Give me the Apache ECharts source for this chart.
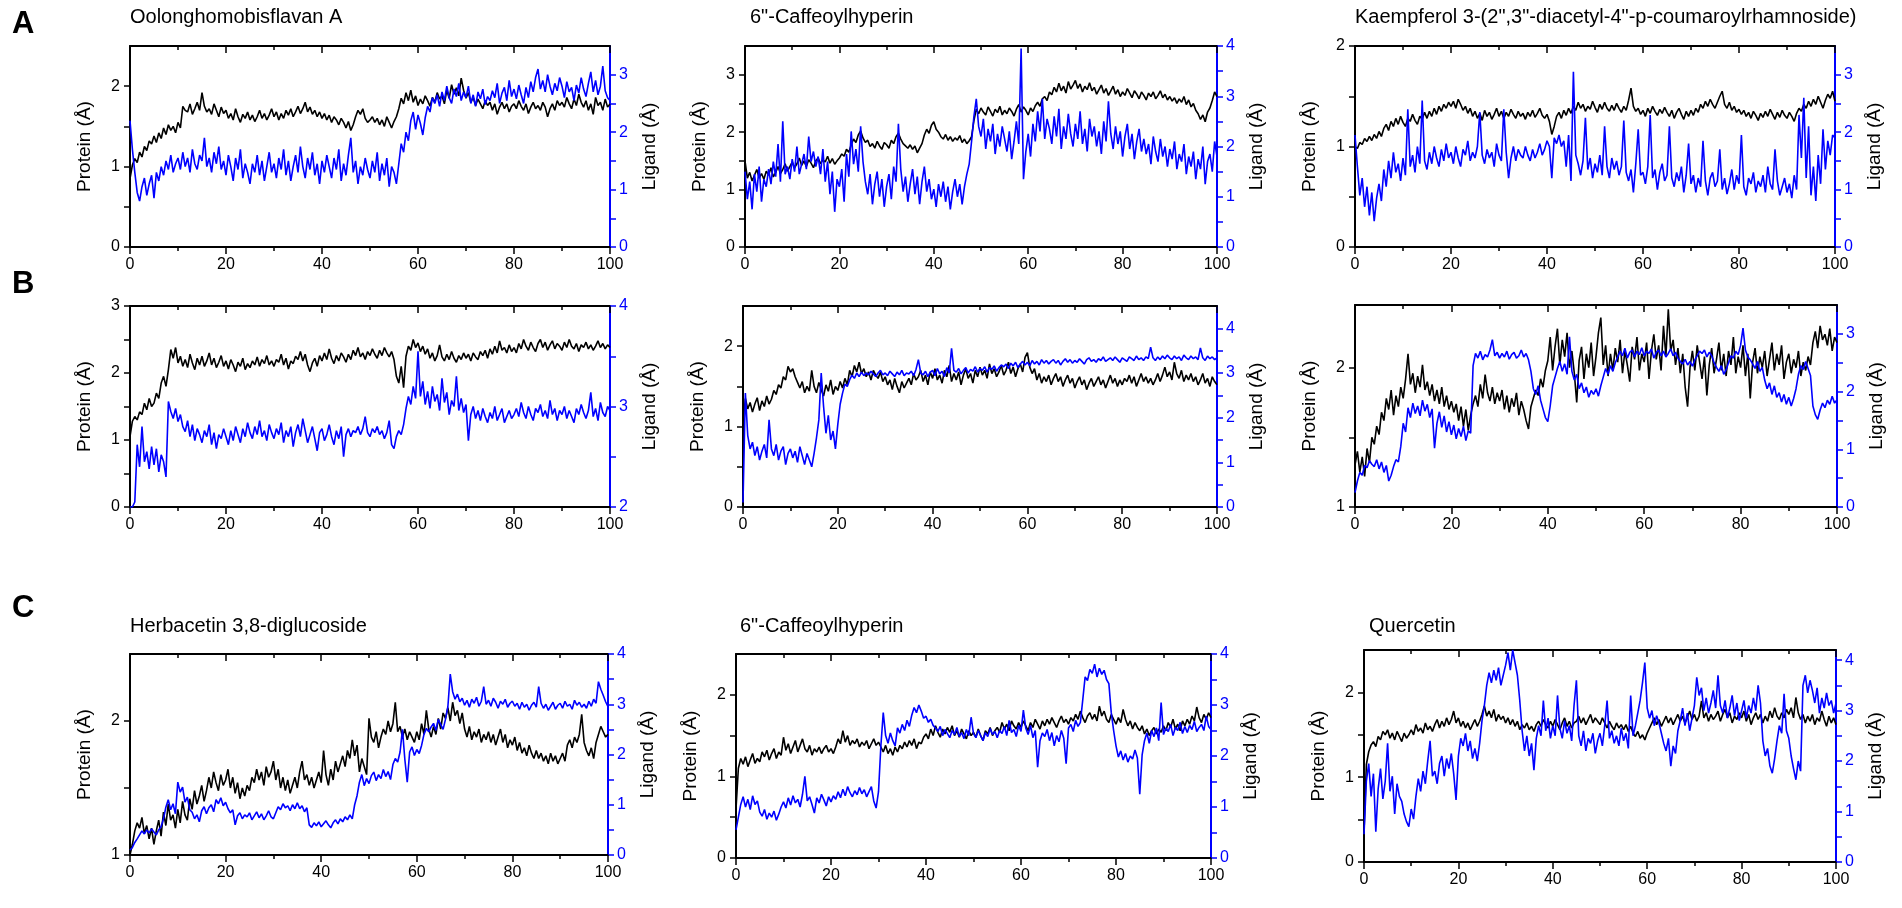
<!DOCTYPE html>
<html><head><meta charset="utf-8">
<script src="https://cdn.jsdelivr.net/npm/echarts@6/dist/echarts.min.js"></script>
<style>html,body{margin:0;padding:0;background:#fff}#c{width:1902px;height:908px}</style>
</head><body><div id="c"></div>
<script>
// ---------------- DATA ----------------
const TIME_STEP_NS = 0.5; // samples every 0.5 ns from 0 to 100 ns
const xTickLabels = [0, 20, 40, 60, 80, 100];
const panelLetters = ['A', 'B', 'C'];
const panelTitles = ['Oolonghomobisflavan A', '6"-Caffeoylhyperin', 'Kaempferol 3-(2",3"-diacetyl-4"-p-coumaroylrhamnoside)', '', '', '', 'Herbacetin 3,8-diglucoside', '6"-Caffeoylhyperin', 'Quercetin'];
const proteinRanges = [[0,2.5],[0,3.5],[0,2],[0,3],[0,2.5],[1,2.45],[1,2.5],[0,2.5],[0,2.5]];
const ligandRanges  = [[0,3.5],[0,4],[0,3.5],[2,4],[0,4.5],[0,3.5],[0,4],[0,4],[0,4.2]];
const proteinTickLabels = [[0,1,2],[0,1,2,3],[0,1,2],[0,1,2,3],[0,1,2],[1,2],[1,2],[0,1,2],[0,1,2]];
const ligandTickLabels  = [[0,1,2,3],[0,1,2,3,4],[0,1,2,3],[2,3,4],[0,1,2,3,4],[0,1,2,3],[0,1,2,3,4],[0,1,2,3,4],[0,1,2,3,4]];

const proteinA1 = [
0.85,1.02,1.10,1.05,1.18,1.12,1.25,1.20,1.32,1.28,
1.38,1.30,1.42,1.35,1.48,1.40,1.52,1.45,1.50,1.42,
1.55,1.48,1.75,1.70,1.68,1.78,1.65,1.72,1.80,1.70,
1.92,1.75,1.68,1.72,1.65,1.78,1.70,1.62,1.74,1.66,
1.70,1.60,1.66,1.58,1.72,1.62,1.55,1.65,1.60,1.68,
1.58,1.64,1.56,1.62,1.70,1.60,1.66,1.58,1.64,1.72,
1.62,1.68,1.58,1.66,1.60,1.70,1.64,1.72,1.62,1.68,
1.75,1.66,1.72,1.80,1.68,1.74,1.65,1.70,1.62,1.68,
1.60,1.66,1.58,1.64,1.55,1.62,1.58,1.52,1.60,1.55,
1.48,1.56,1.45,1.52,1.62,1.70,1.65,1.72,1.60,1.55,
1.58,1.62,1.55,1.60,1.52,1.58,1.50,1.62,1.55,1.48,
1.56,1.62,1.72,1.85,1.78,1.92,1.82,1.95,1.80,1.88,
1.76,1.84,1.78,1.88,1.82,1.75,1.86,1.80,1.92,1.84,
1.88,1.78,1.95,1.85,2.02,1.90,1.98,1.88,2.10,1.95,
1.85,1.92,1.80,1.86,1.76,1.84,1.78,1.72,1.82,1.76,
1.80,1.70,1.78,1.65,1.74,1.80,1.72,1.78,1.68,1.75,
1.78,1.72,1.82,1.75,1.70,1.78,1.66,1.74,1.80,1.72,
1.76,1.70,1.80,1.74,1.62,1.72,1.78,1.70,1.82,1.76,
1.80,1.74,1.86,1.78,1.72,1.84,1.76,1.90,1.80,1.74,
1.82,1.70,1.78,1.65,1.86,1.76,1.80,1.70,1.84,1.74,
1.78];
const ligandA1 = [
2.20,1.70,1.30,0.95,0.80,1.05,1.20,0.90,1.10,1.25,
0.85,1.30,1.15,1.40,1.25,1.50,1.35,1.60,1.30,1.45,
1.55,1.35,1.65,1.40,1.55,1.30,1.70,1.45,1.35,1.60,
1.50,1.90,1.40,1.55,1.30,1.65,1.45,1.75,1.35,1.50,
1.25,1.60,1.40,1.15,1.55,1.35,1.70,1.20,1.45,1.30,
1.10,1.45,1.30,1.60,1.25,1.50,1.15,1.40,1.65,1.30,
1.45,1.20,1.55,1.35,1.70,1.25,1.50,1.15,1.40,1.60,
1.30,1.75,1.40,1.20,1.55,1.35,1.65,1.25,1.45,1.10,
1.50,1.30,1.60,1.40,1.20,1.55,1.35,1.70,1.15,1.45,
1.25,1.60,1.90,1.30,1.50,1.10,1.40,1.25,1.55,1.35,
1.20,1.50,1.30,1.65,1.15,1.45,1.25,1.55,1.05,1.40,
1.30,1.10,1.45,1.80,1.65,2.00,1.85,2.20,2.35,2.05,
2.30,2.15,1.95,2.25,2.45,2.35,2.60,2.50,2.65,2.45,
2.70,2.55,2.80,2.60,2.50,2.75,2.62,2.85,2.55,2.70,
2.60,2.80,2.50,2.65,2.45,2.70,2.58,2.75,2.48,2.62,
2.55,2.72,2.60,2.85,2.50,2.68,2.78,2.55,2.90,2.62,
2.75,2.58,2.82,2.65,2.50,2.78,2.60,2.88,2.70,2.95,
3.10,2.75,2.90,2.70,3.00,2.80,2.65,2.85,2.72,2.95,
2.80,2.60,2.88,2.70,2.78,2.55,2.82,2.68,2.95,2.75,
2.62,2.85,3.05,2.70,2.90,2.65,2.80,3.15,2.72,2.60,
2.55];
const proteinA2 = [
1.50,1.20,1.30,1.15,1.25,1.35,1.20,1.28,1.18,1.32,
1.25,1.38,1.22,1.30,1.40,1.28,1.35,1.45,1.32,1.40,
1.48,1.38,1.45,1.55,1.42,1.50,1.40,1.52,1.46,1.38,
1.50,1.55,1.45,1.52,1.48,1.58,1.46,1.54,1.44,1.50,
1.55,1.62,1.58,1.70,1.65,1.78,1.88,1.82,1.95,2.02,
1.90,1.82,1.86,1.75,1.80,1.72,1.84,1.76,1.70,1.82,
1.78,1.72,1.86,1.80,1.92,1.98,1.88,1.80,1.76,1.72,
1.78,1.70,1.76,1.64,1.72,1.80,1.95,2.05,1.98,2.12,
2.18,2.05,2.00,1.92,1.88,1.96,1.86,1.92,1.84,1.90,
1.86,1.94,1.82,1.88,1.80,1.85,1.92,2.20,2.40,2.32,
2.42,2.35,2.30,2.44,2.36,2.28,2.40,2.34,2.45,2.30,
2.38,2.32,2.42,2.36,2.28,2.40,2.48,2.35,2.44,2.38,
2.30,2.42,2.36,2.46,2.52,2.45,2.58,2.62,2.55,2.70,
2.65,2.78,2.70,2.85,2.72,2.80,2.68,2.88,2.75,2.82,
2.90,2.76,2.84,2.70,2.80,2.74,2.86,2.72,2.78,2.66,
2.74,2.82,2.68,2.76,2.64,2.72,2.80,2.66,2.74,2.62,
2.70,2.64,2.76,2.68,2.60,2.72,2.66,2.58,2.70,2.64,
2.56,2.68,2.62,2.70,2.58,2.64,2.72,2.60,2.66,2.56,
2.62,2.54,2.60,2.50,2.58,2.52,2.62,2.48,2.56,2.44,
2.50,2.38,2.32,2.22,2.30,2.18,2.35,2.42,2.55,2.70,
2.62];
const ligandA2 = [
1.50,0.95,1.30,0.75,1.45,1.10,1.60,0.90,1.35,1.20,
1.55,1.25,1.70,1.40,2.05,1.30,2.50,1.45,1.60,1.35,
1.75,1.50,2.00,1.45,1.65,1.85,1.55,2.20,1.70,1.90,
1.60,1.80,1.45,1.95,1.30,1.70,1.05,1.50,0.70,1.35,
1.20,1.55,0.90,1.85,1.40,2.30,1.65,1.95,1.50,2.40,
1.70,1.30,1.05,1.45,0.85,1.25,1.50,1.00,1.35,0.80,
1.20,1.45,0.95,1.60,1.30,2.45,1.55,1.10,1.40,0.90,
1.25,1.55,1.05,1.40,0.85,1.30,1.60,1.10,1.35,0.95,
1.15,0.80,1.25,1.00,1.30,0.90,1.20,0.75,1.10,1.35,
1.00,1.25,0.85,1.20,1.45,1.65,2.10,2.60,2.95,2.40,
2.20,2.55,1.95,2.35,2.10,2.45,1.85,2.25,2.00,2.40,
2.15,1.90,2.30,1.75,2.10,2.50,2.05,3.95,1.35,1.90,
2.25,1.80,2.45,2.10,2.70,2.30,2.95,2.15,2.55,2.35,
2.05,2.60,2.20,2.75,1.95,2.40,2.15,2.65,2.25,2.00,
2.45,2.15,2.70,2.05,2.35,1.90,2.55,2.20,2.40,2.00,
2.30,1.85,2.50,2.10,2.90,2.25,1.95,2.40,2.05,2.30,
1.80,2.20,2.45,1.95,2.25,1.75,2.10,2.35,1.90,2.15,
1.85,2.05,1.65,2.20,1.90,1.70,2.15,1.80,2.00,1.60,
1.95,1.75,2.10,1.55,1.85,1.70,2.05,1.45,1.80,1.60,
1.90,1.35,1.75,1.55,2.00,1.25,1.70,1.85,1.50,2.10,
1.80];
const proteinA3 = [
1.00,0.98,1.04,1.02,1.08,1.05,1.10,1.06,1.12,1.08,
1.15,1.10,1.18,1.22,1.16,1.25,1.20,1.28,1.22,1.30,
1.24,1.20,1.28,1.25,1.32,1.26,1.22,1.30,1.27,1.34,
1.28,1.35,1.30,1.38,1.32,1.40,1.35,1.42,1.38,1.44,
1.40,1.45,1.38,1.47,1.42,1.36,1.40,1.33,1.38,1.30,
1.35,1.28,1.33,1.26,1.36,1.30,1.34,1.27,1.32,1.38,
1.30,1.35,1.28,1.34,1.30,1.37,1.32,1.28,1.35,1.30,
1.33,1.27,1.34,1.30,1.36,1.29,1.33,1.38,1.31,1.28,
1.32,1.25,1.12,1.20,1.30,1.34,1.28,1.36,1.31,1.38,
1.33,1.40,1.36,1.44,1.38,1.42,1.35,1.40,1.37,1.45,
1.39,1.34,1.42,1.37,1.44,1.38,1.35,1.41,1.36,1.43,
1.38,1.34,1.40,1.36,1.46,1.58,1.40,1.35,1.38,1.32,
1.36,1.30,1.38,1.33,1.40,1.35,1.31,1.37,1.33,1.39,
1.34,1.30,1.36,1.28,1.34,1.38,1.32,1.27,1.35,1.30,
1.36,1.31,1.38,1.34,1.42,1.38,1.45,1.40,1.47,1.42,
1.38,1.44,1.50,1.55,1.42,1.38,1.44,1.36,1.40,1.34,
1.37,1.32,1.36,1.30,1.34,1.28,1.35,1.31,1.26,1.33,
1.29,1.35,1.30,1.37,1.32,1.27,1.34,1.29,1.36,1.31,
1.28,1.34,1.30,1.25,1.33,1.38,1.35,1.42,1.38,1.45,
1.40,1.47,1.42,1.50,1.44,1.38,1.46,1.52,1.48,1.55,
1.45];
const ligandA3 = [
1.95,1.40,0.90,1.20,0.70,1.05,0.55,0.95,0.45,0.85,
1.10,0.80,1.35,1.05,1.50,1.20,1.65,1.30,1.45,1.15,
1.55,1.25,2.40,1.40,1.60,1.30,1.75,1.45,2.55,1.50,
1.35,1.65,1.45,1.75,1.55,1.40,1.70,1.50,1.80,1.55,
1.65,1.45,1.75,1.55,1.40,1.70,1.60,1.85,1.50,1.65,
1.55,1.75,2.35,1.60,1.45,1.70,1.55,1.65,1.40,1.80,
1.60,1.50,2.40,1.65,1.20,1.55,1.75,1.50,1.70,1.60,
1.55,1.75,1.60,1.50,1.70,1.55,1.65,1.80,1.60,1.70,
1.85,1.75,1.20,1.90,1.80,1.95,1.75,1.85,1.40,1.95,
1.15,3.05,1.60,1.45,1.25,1.50,2.25,1.35,1.55,1.20,
1.45,1.30,1.60,1.25,2.10,1.40,1.20,1.55,1.35,1.50,
1.25,1.40,2.20,1.30,1.15,1.35,0.95,1.45,2.05,1.25,
1.30,1.10,1.40,2.30,1.20,1.35,1.00,1.30,1.45,1.15,
1.25,2.10,1.20,1.05,1.30,1.15,1.40,0.95,1.25,1.80,
1.10,1.25,0.95,1.20,1.05,1.85,1.15,0.90,1.20,1.30,
1.05,1.15,1.70,1.00,1.20,0.92,1.10,1.35,1.00,1.25,
1.10,1.95,1.05,0.90,1.20,1.10,1.30,0.95,1.15,1.05,
1.25,0.95,1.40,1.10,1.00,1.70,1.15,0.90,1.05,1.20,
0.95,1.10,0.85,1.25,1.00,2.30,1.55,2.60,1.20,2.10,
0.90,1.40,0.80,1.60,1.10,2.05,1.35,1.85,1.60,1.95,
1.90];
const proteinB1 = [
1.05,1.28,1.35,1.30,1.42,1.38,1.55,1.45,1.62,1.50,
1.55,1.70,1.62,1.85,1.95,1.80,2.05,2.35,2.22,2.38,
2.15,2.25,2.10,2.20,2.08,2.28,2.15,2.05,2.22,2.12,
2.25,2.10,2.18,2.30,2.12,2.22,2.08,2.16,2.26,2.10,
2.18,2.06,2.20,2.12,2.02,2.16,2.10,2.22,2.05,2.14,
2.08,2.18,2.12,2.24,2.10,2.20,2.14,2.26,2.12,2.18,
2.10,2.20,2.16,2.28,2.12,2.22,2.06,2.18,2.14,2.25,
2.20,2.32,2.18,2.28,2.12,2.02,2.15,2.22,2.10,2.26,
2.18,2.30,2.20,2.36,2.22,2.14,2.26,2.18,2.30,2.24,
2.16,2.28,2.20,2.34,2.26,2.38,2.24,2.30,2.20,2.32,
2.26,2.36,2.28,2.22,2.34,2.26,2.38,2.30,2.24,2.32,
2.20,1.95,1.85,2.10,1.78,2.25,2.40,2.34,2.50,2.38,
2.45,2.32,2.40,2.28,2.36,2.22,2.30,2.18,2.26,2.42,
2.24,2.18,2.28,2.20,2.32,2.22,2.16,2.26,2.20,2.30,
2.22,2.28,2.18,2.30,2.24,2.20,2.32,2.26,2.34,2.22,
2.36,2.28,2.40,2.30,2.48,2.34,2.38,2.30,2.42,2.32,
2.38,2.30,2.44,2.36,2.50,2.40,2.34,2.46,2.38,2.32,
2.44,2.50,2.38,2.46,2.34,2.42,2.48,2.36,2.44,2.40,
2.34,2.46,2.38,2.50,2.40,2.36,2.44,2.32,2.42,2.38,
2.46,2.36,2.42,2.34,2.40,2.48,2.38,2.44,2.36,2.42,
2.38];
const ligandB1 = [
2.00,2.00,2.05,2.62,2.40,2.80,2.45,2.55,2.38,2.60,
2.42,2.58,2.35,2.52,2.45,2.30,3.05,2.95,2.88,2.98,
2.85,2.92,2.80,2.75,2.86,2.70,2.82,2.66,2.78,2.72,
2.64,2.76,2.70,2.82,2.62,2.74,2.58,2.72,2.68,2.78,
2.70,2.62,2.76,2.66,2.80,2.72,2.64,2.78,2.70,2.84,
2.74,2.68,2.80,2.72,2.86,2.70,2.76,2.66,2.82,2.74,
2.68,2.78,2.72,2.84,2.64,2.76,2.70,2.80,2.60,2.74,
2.82,2.70,2.88,2.76,2.64,2.72,2.80,2.68,2.56,2.74,
2.78,2.66,2.72,2.82,2.70,2.62,2.76,2.68,2.80,2.50,
2.72,2.78,2.70,2.76,2.74,2.80,2.72,2.78,2.90,2.74,
2.70,2.78,2.74,2.80,2.72,2.76,2.68,2.74,2.86,2.62,
2.58,2.70,2.76,2.72,2.82,2.98,3.10,3.02,3.20,3.08,
3.55,3.10,3.25,3.02,3.15,2.98,3.20,3.05,3.12,2.96,
3.28,3.04,3.14,2.92,3.06,3.00,3.30,2.96,3.08,2.94,
3.02,2.66,2.92,3.00,2.88,2.96,2.86,2.98,2.90,2.84,
2.94,2.88,3.00,2.86,2.92,2.98,2.84,2.90,2.96,2.88,
2.92,2.98,2.90,3.04,2.94,2.88,3.00,2.92,2.86,2.98,
2.94,3.02,2.90,2.96,2.88,3.06,2.92,2.98,2.86,2.96,
2.92,3.00,2.88,2.96,2.90,2.84,2.98,2.92,3.02,2.94,
2.88,2.96,3.14,2.90,2.98,2.86,3.04,2.94,2.90,3.00,
2.96];
const proteinB2 = [
1.05,1.35,1.22,1.30,1.18,1.28,1.36,1.20,1.32,1.25,
1.38,1.28,1.34,1.45,1.40,1.52,1.48,1.62,1.58,1.75,
1.68,1.72,1.62,1.55,1.48,1.56,1.42,1.50,1.44,1.70,
1.50,1.42,1.55,1.46,1.38,1.52,1.44,1.58,1.40,1.50,
1.45,1.56,1.48,1.60,1.52,1.70,1.62,1.76,1.68,1.80,
1.66,1.72,1.62,1.68,1.58,1.70,1.64,1.60,1.68,1.56,
1.62,1.52,1.58,1.46,1.60,1.50,1.42,1.56,1.48,1.54,
1.60,1.52,1.66,1.58,1.62,1.70,1.56,1.64,1.52,1.68,
1.60,1.72,1.58,1.64,1.54,1.70,1.62,1.76,1.56,1.66,
1.58,1.68,1.52,1.64,1.72,1.60,1.66,1.54,1.70,1.62,
1.74,1.64,1.70,1.60,1.78,1.66,1.72,1.62,1.68,1.76,
1.64,1.70,1.80,1.66,1.74,1.62,1.72,1.78,1.68,1.86,
1.92,1.74,1.66,1.72,1.58,1.66,1.54,1.62,1.56,1.64,
1.52,1.60,1.66,1.56,1.62,1.50,1.58,1.64,1.54,1.60,
1.48,1.56,1.62,1.52,1.58,1.46,1.54,1.60,1.50,1.56,
1.62,1.52,1.58,1.48,1.56,1.64,1.54,1.60,1.50,1.58,
1.52,1.60,1.56,1.64,1.54,1.62,1.50,1.58,1.66,1.56,
1.62,1.54,1.60,1.52,1.58,1.66,1.56,1.64,1.74,1.62,
1.68,1.58,1.80,1.66,1.60,1.70,1.56,1.64,1.58,1.66,
1.56,1.62,1.52,1.58,1.66,1.54,1.60,1.50,1.62,1.56,
1.52];
const ligandB2 = [
0.10,2.55,1.60,1.30,1.45,1.15,1.35,1.05,1.25,1.40,
1.10,1.95,1.30,1.15,1.40,1.05,1.25,1.35,0.95,1.20,
1.30,1.10,1.25,1.00,1.35,1.15,0.95,1.20,1.05,0.90,
1.20,1.55,1.95,3.00,2.25,1.65,2.05,1.50,1.70,1.30,
1.85,2.30,2.55,2.75,2.70,2.85,2.95,2.88,3.00,2.92,
3.02,2.94,3.00,2.96,3.04,2.98,2.92,3.00,3.06,2.96,
3.00,2.94,3.04,2.98,2.92,3.02,2.96,3.06,2.94,3.00,
2.98,3.04,2.94,3.08,3.30,3.00,2.96,3.04,2.92,3.02,
3.06,2.94,3.10,2.98,3.04,2.92,3.12,3.00,3.55,3.06,
3.02,3.10,2.98,3.06,3.12,3.00,3.08,3.04,3.14,3.02,
3.10,3.06,3.14,3.02,3.12,3.08,3.16,3.04,3.12,3.18,
3.14,3.20,3.10,3.22,3.16,3.24,3.12,3.20,3.26,3.18,
3.24,3.16,3.28,3.20,3.26,3.18,3.30,3.22,3.28,3.20,
3.26,3.30,3.22,3.28,3.18,3.26,3.32,3.24,3.30,3.22,
3.28,3.24,3.32,3.26,3.20,3.30,3.34,3.26,3.30,3.24,
3.32,3.28,3.36,3.26,3.30,3.34,3.28,3.36,3.30,3.24,
3.34,3.30,3.26,3.36,3.32,3.28,3.38,3.30,3.34,3.28,
3.36,3.32,3.58,3.34,3.28,3.36,3.30,3.38,3.32,3.40,
3.34,3.30,3.38,3.32,3.36,3.28,3.40,3.34,3.30,3.38,
3.32,3.36,3.30,3.56,3.34,3.28,3.38,3.32,3.36,3.30,
3.34];
const proteinB3 = [
1.30,1.40,1.25,1.36,1.22,1.42,1.32,1.50,1.45,1.58,
1.52,1.68,1.62,1.78,1.70,1.84,1.66,1.80,1.72,1.86,
1.78,1.92,2.10,1.88,1.96,1.82,1.94,1.86,2.02,1.84,
1.90,1.80,1.88,1.76,1.84,1.74,1.86,1.72,1.80,1.70,
1.76,1.68,1.74,1.62,1.72,1.58,1.70,1.55,1.66,1.74,
1.80,1.72,1.88,1.78,1.95,1.82,1.76,1.86,1.74,1.82,
1.76,1.84,1.70,1.80,1.68,1.78,1.72,1.82,1.66,1.76,
1.70,1.62,1.56,1.72,1.78,1.84,1.80,1.92,1.86,1.98,
2.05,2.22,1.98,2.15,2.28,2.02,2.20,2.08,2.25,2.00,
2.12,1.96,1.75,2.05,2.15,1.92,2.10,2.00,2.18,1.94,
2.08,2.25,2.36,2.02,2.16,1.94,2.10,1.98,2.14,2.04,
2.20,1.96,2.12,2.02,1.90,2.15,2.06,2.22,1.98,2.10,
2.04,2.18,1.92,2.12,2.24,2.06,2.16,1.98,2.30,2.08,
2.42,2.12,2.20,2.02,2.14,1.96,2.10,1.86,1.72,2.00,
2.12,1.98,2.16,2.04,1.92,2.08,1.80,2.02,2.14,1.96,
2.06,2.18,1.98,2.10,1.94,2.12,2.02,2.22,1.96,2.08,
2.00,2.16,1.94,2.10,1.78,2.04,2.14,1.96,2.08,2.00,
2.12,1.94,2.06,2.18,1.98,2.10,2.02,2.16,1.92,2.04,
2.10,1.96,2.06,2.00,2.12,1.94,2.04,1.98,2.08,2.02,
2.18,2.26,2.14,2.30,2.20,2.24,2.16,2.28,2.12,2.22,
2.18];
const ligandB3 = [
0.25,0.45,0.60,0.55,0.72,0.68,0.80,0.74,0.70,0.82,
0.66,0.78,0.60,0.72,0.45,0.55,0.70,0.82,0.78,1.05,
1.45,1.30,1.72,1.55,1.80,1.62,1.75,1.58,1.85,1.66,
1.78,1.55,1.70,1.02,1.45,1.65,1.38,1.58,1.30,1.48,
1.25,1.42,1.18,1.36,1.22,1.40,1.15,1.32,1.28,2.45,
2.66,2.58,2.70,2.55,2.64,2.60,2.72,2.90,2.62,2.68,
2.58,2.66,2.60,2.70,2.56,2.64,2.68,2.58,2.62,2.72,
2.60,2.66,2.55,2.35,2.05,1.95,2.10,1.85,1.70,1.55,
1.48,1.75,2.10,2.25,2.40,2.52,2.35,2.48,2.30,2.95,
2.35,2.20,2.30,2.05,2.15,1.98,2.08,1.90,2.02,1.95,
2.05,1.92,2.10,2.25,2.40,2.30,2.45,2.35,2.50,2.60,
2.70,2.62,2.75,2.58,2.68,2.72,2.60,2.70,2.64,2.76,
2.62,2.70,2.66,2.74,2.58,2.68,2.72,2.62,2.70,2.60,
2.66,2.74,2.62,2.68,2.58,2.52,2.48,2.56,2.46,2.52,
2.44,2.55,2.62,2.70,2.66,2.72,2.60,2.68,2.62,2.50,
2.42,2.35,2.45,2.30,2.38,2.50,2.62,2.58,2.70,2.64,
2.80,3.10,2.72,2.60,2.55,2.48,2.40,2.52,2.35,2.42,
2.20,2.05,2.15,1.95,2.10,1.90,1.98,1.82,1.95,1.78,
1.90,1.75,1.88,2.05,2.30,2.45,2.38,2.52,2.40,2.28,
1.75,1.60,1.52,1.68,1.80,1.72,1.85,1.78,1.92,1.80,
1.86];
const proteinC1 = [
1.00,1.08,1.18,1.24,1.20,1.28,1.16,1.22,1.12,1.20,
1.08,1.18,1.26,1.14,1.32,1.22,1.38,1.26,1.30,1.20,
1.34,1.24,1.40,1.30,1.26,1.42,1.34,1.48,1.38,1.44,
1.52,1.40,1.48,1.58,1.50,1.62,1.54,1.48,1.60,1.52,
1.56,1.64,1.50,1.58,1.46,1.54,1.42,1.50,1.44,1.52,
1.48,1.58,1.54,1.64,1.56,1.62,1.52,1.66,1.58,1.62,
1.70,1.56,1.64,1.50,1.58,1.48,1.56,1.46,1.52,1.58,
1.50,1.62,1.70,1.56,1.60,1.52,1.58,1.50,1.56,1.62,
1.54,1.78,1.60,1.52,1.64,1.56,1.70,1.62,1.68,1.74,
1.66,1.78,1.72,1.86,1.74,1.82,1.62,1.72,1.66,1.60,
2.02,1.88,1.84,1.92,1.80,1.88,1.94,1.90,2.00,1.92,
1.98,2.14,1.92,1.96,1.88,1.94,1.86,1.92,1.88,1.84,
1.92,1.86,1.98,1.90,2.08,1.94,1.88,1.96,1.90,2.02,
1.94,2.06,2.02,2.10,2.00,2.14,2.04,2.08,1.98,2.06,
1.94,1.88,1.96,1.86,1.92,1.88,1.94,1.84,1.90,1.86,
1.92,1.84,1.90,1.82,1.88,1.94,1.84,1.90,1.80,1.86,
1.82,1.88,1.78,1.84,1.76,1.80,1.74,1.82,1.76,1.72,
1.78,1.72,1.76,1.70,1.74,1.68,1.76,1.70,1.74,1.68,
1.72,1.76,1.70,1.82,1.86,1.80,1.88,1.84,1.90,2.05,
1.84,1.78,1.74,1.80,1.72,1.84,1.90,1.96,1.92,1.88,
1.90];
const ligandC1 = [
0.10,0.15,0.25,0.32,0.40,0.48,0.42,0.50,0.44,0.52,
0.46,0.40,0.50,0.56,0.72,0.95,1.10,0.90,1.02,0.82,
1.45,1.25,1.35,1.05,1.15,0.90,0.85,0.72,0.80,0.66,
0.88,0.96,0.82,0.94,1.00,0.86,1.10,1.02,1.14,0.98,
1.05,0.92,0.84,0.90,0.60,0.78,0.84,0.72,0.80,0.76,
0.84,0.70,0.78,0.86,0.74,0.82,0.70,0.78,0.88,0.76,
0.72,0.84,0.96,0.90,1.02,0.94,0.98,0.88,1.00,0.92,
1.04,0.92,0.98,0.86,0.94,0.60,0.55,0.64,0.58,0.66,
0.56,0.62,0.68,0.60,0.54,0.64,0.70,0.62,0.72,0.66,
0.76,0.70,0.80,0.72,1.00,1.18,1.45,1.60,1.38,1.52,
1.42,1.58,1.65,1.48,1.60,1.52,1.70,1.56,1.66,1.50,
1.80,1.92,1.85,2.05,2.50,1.90,1.45,2.05,2.15,1.98,
2.10,2.02,2.18,2.40,2.52,2.45,2.55,2.62,2.48,2.70,
2.60,2.50,2.70,2.95,3.60,3.25,3.10,3.20,3.05,3.12,
2.98,3.08,2.94,3.10,3.02,3.14,2.96,3.06,3.35,3.00,
3.08,2.96,3.12,3.04,2.92,3.06,3.00,3.10,2.94,3.02,
3.06,2.96,3.02,2.90,3.04,2.94,3.00,2.88,2.98,3.04,
2.94,3.35,3.02,2.92,3.00,2.88,2.96,3.04,2.90,2.98,
3.02,2.92,3.06,2.96,3.00,2.90,3.08,2.98,3.04,2.94,
3.00,2.92,3.06,2.96,3.10,3.02,3.45,3.30,3.18,3.05,
2.95];
const proteinC2 = [
0.60,1.10,1.22,1.15,1.24,1.12,1.20,1.28,1.16,1.22,
1.18,1.30,1.24,1.32,1.20,1.28,1.34,1.22,1.30,1.26,
1.48,1.32,1.40,1.28,1.36,1.44,1.30,1.38,1.46,1.34,
1.30,1.38,1.26,1.34,1.30,1.36,1.28,1.34,1.38,1.30,
1.34,1.28,1.36,1.46,1.40,1.56,1.42,1.50,1.38,1.44,
1.40,1.46,1.36,1.42,1.38,1.44,1.34,1.40,1.46,1.38,
1.42,1.36,1.30,1.38,1.28,1.34,1.26,1.36,1.30,1.38,
1.34,1.42,1.36,1.44,1.38,1.46,1.34,1.42,1.40,1.48,
1.52,1.46,1.58,1.50,1.62,1.54,1.48,1.58,1.52,1.60,
1.54,1.62,1.50,1.56,1.48,1.58,1.52,1.46,1.56,1.50,
1.54,1.48,1.58,1.50,1.44,1.56,1.52,1.60,1.50,1.56,
1.60,1.54,1.66,1.58,1.64,1.56,1.68,1.62,1.58,1.66,
1.60,1.68,1.62,1.56,1.66,1.60,1.70,1.64,1.58,1.68,
1.62,1.70,1.64,1.72,1.66,1.60,1.68,1.74,1.66,1.70,
1.64,1.72,1.68,1.76,1.70,1.80,1.72,1.66,1.74,1.78,
1.70,1.76,1.68,1.86,1.74,1.80,1.70,1.66,1.76,1.70,
1.64,1.72,1.66,1.82,1.70,1.62,1.68,1.58,1.66,1.60,
1.56,1.62,1.52,1.58,1.50,1.56,1.60,1.52,1.58,1.54,
1.62,1.56,1.66,1.60,1.70,1.58,1.64,1.56,1.68,1.62,
1.70,1.64,1.74,1.68,1.85,1.72,1.66,1.76,1.70,1.78,
1.72];
const ligandC2 = [
0.55,0.80,1.05,1.20,1.00,1.15,0.95,1.22,1.05,1.12,
0.90,0.82,0.95,0.76,0.88,0.80,0.92,0.74,0.86,1.00,
1.10,0.98,1.18,1.04,1.22,1.08,1.15,1.00,1.25,1.60,
1.12,1.20,1.05,0.88,1.18,1.08,1.25,1.14,1.02,1.20,
1.10,1.22,1.15,1.30,1.18,1.35,1.22,1.40,1.28,1.20,
1.32,1.24,1.38,1.26,1.34,1.20,1.30,1.40,1.12,0.98,
1.30,2.20,2.85,2.40,2.25,2.45,2.30,2.20,2.55,2.45,
2.62,2.50,2.70,2.58,2.80,2.95,2.85,3.00,2.88,2.74,
2.78,2.66,2.72,2.60,2.55,2.48,2.58,2.40,2.52,2.44,
2.36,2.50,2.42,2.56,2.38,2.46,2.34,2.52,2.40,2.76,
2.44,2.36,2.50,2.40,2.30,2.46,2.38,2.54,2.42,2.48,
2.36,2.50,2.44,2.58,2.40,2.70,2.46,2.52,2.38,2.60,
2.48,2.90,2.55,2.42,2.60,2.36,2.50,1.78,2.30,2.45,
2.38,2.52,2.30,2.46,2.20,2.40,2.28,2.50,2.35,1.85,
2.55,2.62,2.48,2.70,2.58,2.66,3.10,3.55,3.48,3.70,
3.62,3.80,3.55,3.72,3.60,3.68,3.50,3.42,2.85,2.50,
2.20,1.98,2.10,1.92,2.05,1.88,2.00,1.94,2.12,1.96,
1.25,2.02,2.30,2.45,2.25,2.50,2.38,2.55,2.30,3.05,
2.42,2.55,2.48,2.62,2.40,2.56,2.50,2.66,2.44,2.58,
2.46,2.60,2.52,2.68,2.48,2.56,2.62,2.50,2.78,2.58,
2.52];
const proteinC3 = [
0.35,1.15,1.30,1.38,1.42,1.36,1.48,1.44,1.54,1.50,
1.56,1.46,1.52,1.44,1.54,1.48,1.42,1.52,1.46,1.50,
1.56,1.50,1.62,1.54,1.58,1.52,1.64,1.56,1.60,1.54,
1.62,1.68,1.58,1.66,1.60,1.70,1.62,1.68,1.78,1.64,
1.70,1.60,1.66,1.58,1.64,1.56,1.62,1.68,1.60,1.66,
1.74,1.84,1.72,1.78,1.70,1.80,1.66,1.74,1.68,1.72,
1.64,1.70,1.62,1.68,1.60,1.66,1.56,1.62,1.58,1.64,
1.56,1.60,1.54,1.62,1.66,1.60,1.68,1.62,1.58,1.66,
1.60,1.68,1.62,1.56,1.64,1.70,1.60,1.66,1.58,1.64,
1.66,1.72,1.64,1.70,1.62,1.68,1.74,1.64,1.70,1.66,
1.62,1.70,1.64,1.58,1.66,1.60,1.56,1.64,1.58,1.62,
1.56,1.62,1.54,1.60,1.52,1.48,1.54,1.46,1.50,1.44,
1.52,1.58,1.64,1.70,1.62,1.68,1.60,1.66,1.72,1.64,
1.70,1.62,1.68,1.74,1.66,1.72,1.64,1.70,1.78,1.68,
1.74,1.66,1.72,1.90,1.70,1.76,1.66,1.74,1.68,1.72,
1.78,1.66,1.74,1.80,1.70,1.76,1.64,1.72,1.68,1.76,
1.70,1.78,1.66,1.74,1.62,1.70,1.76,1.68,1.74,1.64,
1.72,1.66,1.78,1.70,1.82,1.72,1.68,1.76,1.70,1.80,
1.74,1.82,1.70,1.94,1.76,1.68,1.74,1.64,1.72,1.66,
1.74,1.62,1.70,1.66,1.78,1.68,1.60,1.72,1.64,1.70,
1.62];
const ligandC3 = [
0.55,1.60,1.95,1.30,1.75,0.60,1.45,1.85,1.25,1.60,
2.35,1.40,1.70,0.95,1.55,1.30,1.20,0.95,0.80,0.70,
1.05,0.85,1.30,1.65,1.40,1.80,1.55,2.00,2.40,1.70,
1.80,1.55,1.95,2.10,1.70,2.05,1.85,2.15,1.75,1.23,
2.10,2.45,2.30,2.55,2.20,2.40,2.05,2.25,2.00,2.35,
2.80,3.10,3.50,3.75,3.55,3.80,3.60,3.85,3.50,3.70,
3.90,4.15,3.80,4.20,3.95,3.70,3.20,2.60,2.20,2.50,
2.10,2.35,1.82,2.45,2.70,2.50,3.20,2.60,2.85,2.45,
2.70,2.50,3.30,2.65,2.45,2.80,2.55,2.70,2.40,3.10,
3.60,2.50,2.30,2.60,2.20,2.45,2.35,2.55,2.15,2.40,
2.55,2.30,2.70,3.20,2.45,2.60,2.35,2.50,2.30,2.65,
2.40,2.55,2.25,3.30,2.50,2.70,2.95,3.20,3.55,3.95,
3.05,2.85,3.00,2.70,2.90,2.75,2.55,2.35,2.20,2.45,
1.90,2.30,2.15,2.60,2.80,3.05,2.70,2.95,2.60,2.85,
3.10,3.66,3.30,3.45,3.00,3.25,2.95,3.15,3.40,3.05,
3.70,3.10,2.95,3.20,2.85,3.05,3.30,2.90,3.15,2.80,
3.00,3.20,2.85,3.10,2.95,3.25,3.00,3.50,3.15,2.40,
2.10,2.25,1.90,1.76,2.05,2.40,2.70,2.55,3.33,2.60,
2.45,2.10,1.85,1.63,2.00,1.80,3.50,3.70,3.35,3.60,
3.40,3.15,3.45,2.95,3.25,3.05,3.35,3.10,3.20,2.95,
3.15];

const proteinSeries = [proteinA1, proteinA2, proteinA3, proteinB1, proteinB2, proteinB3, proteinC1, proteinC2, proteinC3];
const ligandSeries  = [ligandA1, ligandA2, ligandA3, ligandB1, ligandB2, ligandB3, ligandC1, ligandC2, ligandC3];

// ---------------- LAYOUT / STYLE ----------------
const gridBoxes = [
  [130, 46, 480, 201], [745, 46, 472, 201], [1355, 46, 480, 201],
  [130, 306, 480, 201], [743, 306, 474, 201], [1355, 305, 482, 202],
  [130, 654, 478, 201], [736, 654, 475, 204], [1364, 650, 472, 212]
];
const titlePos = [[130, 7], [750, 7], [1355, 7], null, null, null, [130, 616], [740, 616], [1369, 616]];
const letterPos = [[12, 9], [12, 269], [12, 593]];
const FONT = 'Arial, "Liberation Sans", Helvetica, sans-serif';
const BLUE = '#0000ff';
const BLACK = '#000000';

const grids = [], xAxes = [], yAxes = [], series = [], titles = [];

// tick positions: labelled integers plus unlabelled half steps inside the range
function tickValuesOf(labels, range) {
  const halves = labels.map(v => v + 0.5).filter(v => v < range[1] - 1e-9);
  if (labels[0] - 0.5 > range[0] + 1e-9) halves.unshift(labels[0] - 0.5);
  return labels.concat(halves).sort((a, b) => a - b);
}

for (let i = 0; i < 9; i++) {
  const [l, t, w, h] = gridBoxes[i];
  grids.push({ left: l, top: t, width: w, height: h, containLabel: false, outerBoundsMode: 'none', show: false });

  const xBase = {
    gridIndex: i, type: 'value', min: 0, max: 100, interval: 20,
    splitLine: { show: false }, minorSplitLine: { show: false },
    axisLine: { show: true, onZero: false, lineStyle: { color: BLACK, width: 2 } }
  };
  xAxes.push(Object.assign({}, xBase, {
    position: 'bottom',
    axisTick: { show: true, length: 7, lineStyle: { color: BLACK, width: 1.5 } },
    minorTick: { show: true, splitNumber: 2, length: 4, lineStyle: { color: BLACK, width: 1.5 } },
    axisLabel: { show: true, fontSize: 16, color: BLACK, margin: 10, fontFamily: FONT,
      customValues: xTickLabels }
  }));
  xAxes.push(Object.assign({}, xBase, {
    position: 'top',
    axisTick: { show: true, inside: true, length: 7, lineStyle: { color: BLACK, width: 1.5 } },
    minorTick: { show: true, splitNumber: 2, length: 4, lineStyle: { color: BLACK, width: 1.5 } },
    axisLabel: { show: false }
  }));

  const pr = proteinRanges[i], lr = ligandRanges[i];
  const pMaj = proteinTickLabels[i], lMaj = ligandTickLabels[i];

  yAxes.push({
    gridIndex: i, type: 'value', min: pr[0], max: pr[1], position: 'left',
    splitLine: { show: false },
    axisLine: { show: true, onZero: false, lineStyle: { color: BLACK, width: 2 } },
    axisTick: { show: true, length: 6, customValues: tickValuesOf(pMaj, pr), lineStyle: { color: BLACK, width: 1.5 } },
    axisLabel: { show: true, customValues: pMaj, fontSize: 16, color: BLACK, margin: 10, fontFamily: FONT },
    name: 'Protein (Å)', nameLocation: 'middle', nameGap: 36, nameRotate: 90,
    nameTextStyle: { fontSize: 19, color: BLACK, fontFamily: FONT }
  });
  yAxes.push({
    gridIndex: i, type: 'value', min: lr[0], max: lr[1], position: 'right',
    splitLine: { show: false },
    axisLine: { show: true, onZero: false, lineStyle: { color: BLUE, width: 2 } },
    axisTick: { show: true, length: 6, customValues: tickValuesOf(lMaj, lr), lineStyle: { color: BLUE, width: 1.5 } },
    axisLabel: { show: true, customValues: lMaj, fontSize: 16, color: BLUE, margin: 9, fontFamily: FONT },
    name: 'Ligand (Å)', nameLocation: 'middle', nameGap: 30, nameRotate: 90,
    nameTextStyle: { fontSize: 19, color: BLACK, fontFamily: FONT }
  });

  series.push({
    type: 'line', xAxisIndex: 2 * i, yAxisIndex: 2 * i, symbol: 'none', showSymbol: false,
    data: proteinSeries[i].map((v, k) => [k * TIME_STEP_NS, v]),
    lineStyle: { color: BLACK, width: 1.6 }, itemStyle: { color: BLACK },
    silent: true, animation: false, clip: true, z: 2
  });
  series.push({
    type: 'line', xAxisIndex: 2 * i, yAxisIndex: 2 * i + 1, symbol: 'none', showSymbol: false,
    data: ligandSeries[i].map((v, k) => [k * TIME_STEP_NS, v]),
    lineStyle: { color: BLUE, width: 1.6 }, itemStyle: { color: BLUE },
    silent: true, animation: false, clip: true, z: 3
  });

  if (panelTitles[i]) {
    titles.push({ text: panelTitles[i], left: titlePos[i][0], top: titlePos[i][1], padding: 0,
      textStyle: { fontSize: 20, fontWeight: 'normal', color: BLACK, fontFamily: FONT } });
  }
}
panelLetters.forEach((s, r) => {
  titles.push({ text: s, left: letterPos[r][0], top: letterPos[r][1], padding: 0,
    textStyle: { fontSize: 31, fontWeight: 'bold', color: BLACK, fontFamily: FONT } });
});

const chart = echarts.init(document.getElementById('c'), null, { renderer: 'canvas' });
chart.setOption({
  backgroundColor: '#ffffff',
  animation: false,
  textStyle: { fontFamily: FONT },
  title: titles,
  grid: grids,
  xAxis: xAxes,
  yAxis: yAxes,
  series: series,
  tooltip: { show: false },
  legend: { show: false }
});
</script>
</body></html>
